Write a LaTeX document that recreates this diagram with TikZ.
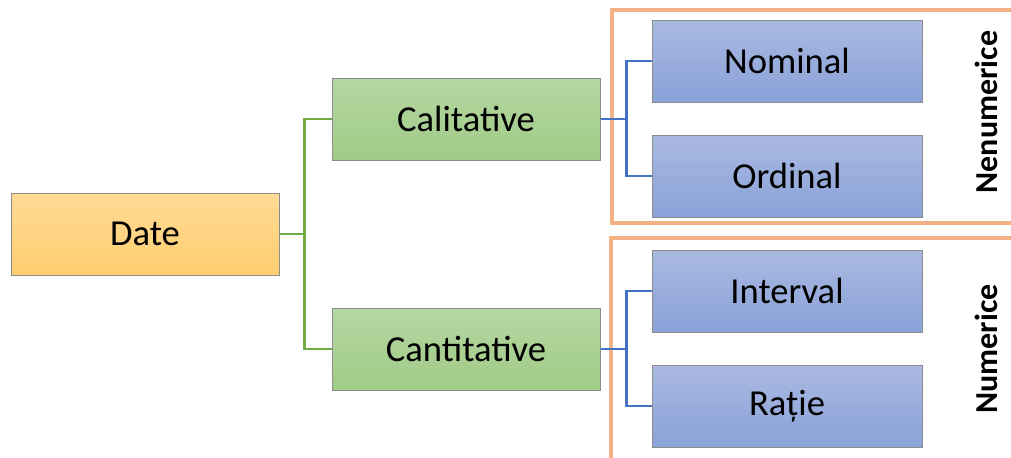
\documentclass[tikz,border=0pt]{standalone}
\usepackage{fontspec}
\setmainfont{Carlito}
\usepackage{xcolor}
\usepackage{tikz}
\usetikzlibrary{positioning, calc}
\definecolor{dateTop}{RGB}{255, 218, 150}
\definecolor{dateBot}{RGB}{255, 206, 110}
\definecolor{greenTop}{RGB}{181, 214, 162}
\definecolor{greenBot}{RGB}{160, 203, 135}
\definecolor{blueTop}{RGB}{170, 185, 225}
\definecolor{blueBot}{RGB}{137, 162, 216}
\definecolor{edgeGray}{RGB}{140, 140, 140}
\definecolor{treeGreen}{RGB}{112, 173, 71}
\definecolor{treeBlue}{RGB}{68, 114, 196}
\definecolor{frameOrange}{RGB}{244, 177, 131}
\tikzset{
  catbox/.style={
    rectangle,
    draw=edgeGray, line width=0.5pt,
    minimum width=134pt, minimum height=41pt,
    inner sep=0pt, align=center,
    font=\fontsize{18.3}{22}\selectfont
  },
  datebox/.style={catbox, top color=dateTop, bottom color=dateBot},
  greenbox/.style={catbox, top color=greenTop, bottom color=greenBot},
  bluebox/.style={catbox, minimum width=135pt, top color=blueTop, bottom color=blueBot},
  greenline/.style={draw=treeGreen, line width=1.25pt},
  blueline/.style={draw=treeBlue, line width=1.25pt},
  groupframe/.style={draw=frameOrange, line width=1.6pt},
  grouplabel/.style={rotate=90, font=\fontsize{16}{19}\selectfont\bfseries}
}
\begin{document}
\begin{tikzpicture}[x=0.5pt, y=-0.5pt, node distance=16pt]

  \useasboundingbox (0,0) rectangle (1011,457);

  % group frames
  \draw[groupframe] (1011,10) -- (612,10) -- (612,223) -- (1011,223);
  \draw[groupframe] (1011,238) -- (611,238) -- (611,460);

  \node[datebox] (date) at (145,234) {Date};

  \node[greenbox] (calit) at (466,119) {Calitative};
  \node[greenbox, below=73.5pt of calit] (cantit) {Cantitative};

  \node[bluebox] (nominal) at (787,61) {Nominal};
  \node[bluebox, below=of nominal] (ordinal) {Ordinal};
  \node[bluebox, below=of ordinal] (interval) {Interval};
  \node[bluebox, below=of interval] (ratie) {Rație};

  \node[grouplabel] (nenum) at (986,112) {Nenumerice};
  \node[grouplabel] (num) at (986,349) {Numerice};

  % tree connectors
  \draw[greenline] (date.east) -- ++(25,0) coordinate (gsplit);
  \draw[greenline] (calit.west) -| (gsplit) |- (cantit.west);

  \draw[blueline] (calit.east) -- ++(26,0) coordinate (bsplitA);
  \draw[blueline] (nominal.west) -| (bsplitA) |- (ordinal.west);

  \draw[blueline] (cantit.east) -- ++(26,0) coordinate (bsplitB);
  \draw[blueline] (interval.west) -| (bsplitB) |- (ratie.west);

\end{tikzpicture}
\end{document}
